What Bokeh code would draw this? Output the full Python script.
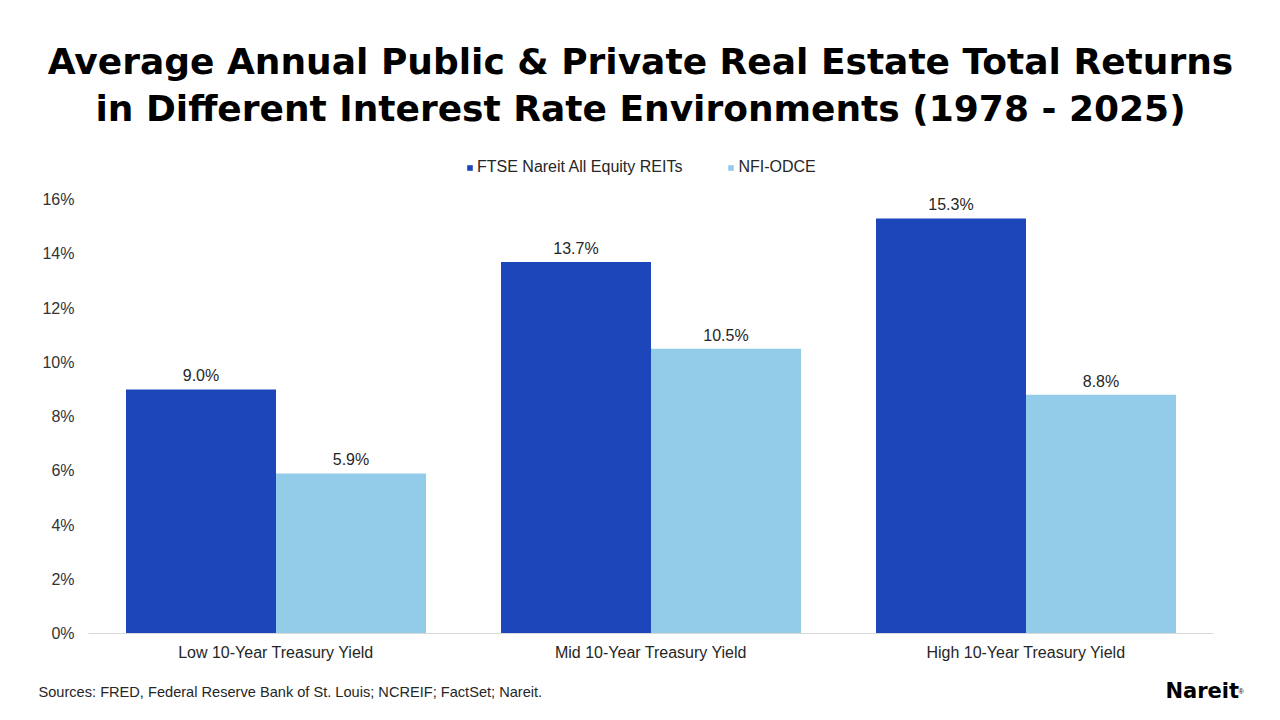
from bokeh.plotting import figure
from bokeh.layouts import column
from bokeh.models import (ColumnDataSource, FactorRange, Range1d, Label, Legend, LegendItem,
                          FixedTicker, LabelSet, CustomJSTickFormatter)
from bokeh.core.properties import value
from bokeh.transform import dodge
from bokeh.embed import file_html
from bokeh.resources import INLINE

categories = ["Low 10-Year Treasury Yield", "Mid 10-Year Treasury Yield", "High 10-Year Treasury Yield"]
reits = [9.0, 13.7, 15.3]
odce = [5.9, 10.5, 8.8]
series_names = ["FTSE Nareit All Equity REITs", "NFI-ODCE"]
y_ticks = [0, 2, 4, 6, 8, 10, 12, 14, 16]
title_lines = ["Average Annual Public & Private Real Estate Total Returns",
               "in Different Interest Rate Environments (1978 - 2025)"]
source_note = "Sources: FRED, Federal Reserve Bank of St. Louis; NCREIF; FactSet; Nareit."

DARK = "#1C46B9"
LIGHT = "#92CCE8"
FONT = "Liberation Sans"
TXT = "#262626"

W = 1280
TOP_H, MAIN_H, FOOT_H = 185, 485, 50
FL, FR = 88, 1213
FT, FB = 188, 633                      # frame top/bottom in page pixels
Y_END = 16 * (FB - FT) / (FB - 199)    # so that 16% sits at y=199

def blank(h):
    f = figure(width=W, height=h, x_range=Range1d(0, W), y_range=Range1d(h, 0),
               output_backend="svg", toolbar_location=None, frame_align=False,
               min_border=0, min_border_left=0, min_border_right=0, min_border_top=0, min_border_bottom=0)
    f.axis.visible = False
    f.grid.visible = False
    f.outline_line_color = None
    f.background_fill_color = "white"
    f.border_fill_color = "white"
    return f

def add_text(f, text, x, y, size, bold=False, font=FONT, align="left", color="black"):
    f.add_layout(Label(x=x, y=y, text=text, text_font=font, text_font_size=size, text_align=align,
                       text_baseline="alphabetic", text_color=color,
                       text_font_style="bold" if bold else "normal"))

# ---- header: title + legend
top = blank(TOP_H)
add_text(top, title_lines[0], 640, 61, "36px", True, "DejaVu Sans", "center")
add_text(top, title_lines[1], 640, 108, "36px", True, "DejaVu Sans", "center")
d1 = top.vbar(x=[-1000], top=[-1000], width=1, fill_color=DARK, line_color=None)
d2 = top.vbar(x=[-1000], top=[-1000], width=1, fill_color=LIGHT, line_color=None)
legend = Legend(items=[LegendItem(label=series_names[0], renderers=[d1]),
                       LegendItem(label=series_names[1], renderers=[d2])],
                orientation="horizontal", location=(466, TOP_H - 176),
                glyph_width=7, glyph_height=7, label_text_font=FONT, label_text_font_size="16px",
                label_text_color=TXT, spacing=45, label_standoff=4, label_height=18,
                border_line_color=None, background_fill_alpha=0, padding=0, margin=0)
top.add_layout(legend, "center")

# ---- main chart
src = ColumnDataSource(dict(
    cat=categories,
    reits=reits,
    odce=odce,
    reits_lbl=[f"{v:.1f}%" for v in reits],
    odce_lbl=[f"{v:.1f}%" for v in odce],
))

p = figure(width=W, height=MAIN_H, x_range=FactorRange(*categories, range_padding=0),
           y_range=Range1d(0, Y_END), output_backend="svg", toolbar_location=None, frame_align=False,
           min_border_left=FL, min_border_right=W - FR, min_border_top=FT - TOP_H,
           min_border_bottom=TOP_H + MAIN_H - FB)
p.outline_line_color = None
p.xgrid.visible = False
p.ygrid.visible = False
p.background_fill_color = "white"
p.border_fill_color = "white"

p.vbar(x=dodge("cat", -0.2, range=p.x_range), top="reits", width=0.4, source=src,
       fill_color=DARK, line_color=None)
p.vbar(x=dodge("cat", 0.2, range=p.x_range), top="odce", width=0.4, source=src,
       fill_color=LIGHT, line_color=None)

for col, off in (("reits", -0.2), ("odce", 0.2)):
    p.add_layout(LabelSet(x=dodge("cat", off, range=p.x_range), y=col, text=col + "_lbl", source=src,
                          text_align="center", text_baseline="bottom", y_offset=5,
                          text_font=value(FONT), text_font_size=value("16px"), text_color=TXT))

p.yaxis.ticker = FixedTicker(ticks=y_ticks)
p.yaxis.formatter = CustomJSTickFormatter(code="return tick + '%'")
p.yaxis.axis_line_color = None
p.yaxis.major_tick_line_color = None
p.yaxis.minor_tick_line_color = None
p.yaxis.major_label_standoff = 8
p.yaxis.major_label_text_font = FONT
p.yaxis.major_label_text_font_size = "16px"
p.yaxis.major_label_text_color = "#333333"

p.xaxis.axis_line_color = "#D9D9D9"
p.xaxis.major_tick_line_color = None
p.xaxis.minor_tick_line_color = None
p.xaxis.major_label_standoff = 4
p.xaxis.major_label_text_font = FONT
p.xaxis.major_label_text_font_size = "16px"
p.xaxis.major_label_text_color = TXT

# ---- footer
foot = blank(FOOT_H)
add_text(foot, source_note, 38, 21, "14.6px", color=TXT)
add_text(foot, "Nareit", 1165, 20, "21px", True, "DejaVu Sans")
add_text(foot, "®", 1238, 21, "7px")

layout = column(top, p, foot, spacing=0)
open("out.html", "w").write(file_html(layout, INLINE))
